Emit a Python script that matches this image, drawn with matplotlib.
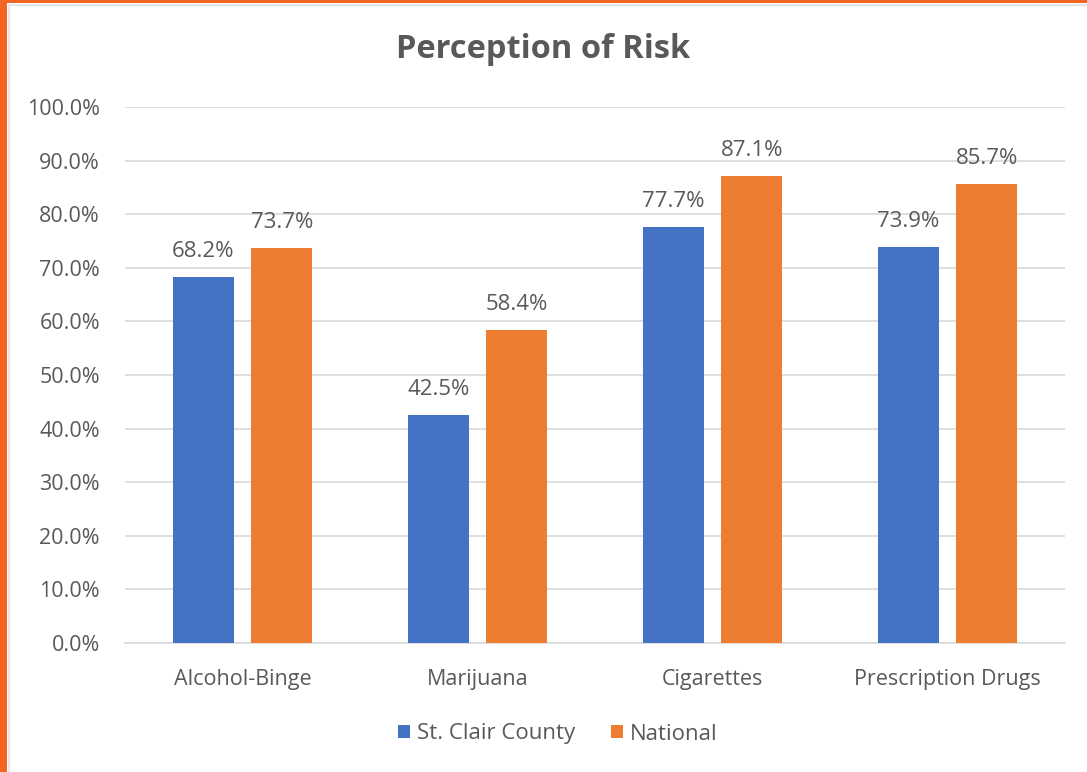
import matplotlib.pyplot as plt
import matplotlib.patches as mpatches
import numpy as np

plt.rcParams["font.family"] = ["Open Sans", "DejaVu Sans"]

categories = ["Alcohol-Binge", "Marijuana", "Cigarettes", "Prescription Drugs"]
st_clair = [68.2, 42.5, 77.7, 73.9]
national = [73.7, 58.4, 87.1, 85.7]
series_names = ["St. Clair County", "National"]

BLUE = "#4472C4"
ORANGE = "#ED7D31"
TEXT = "#595959"

fig = plt.figure(figsize=(10.87, 7.72), dpi=100)

# orange frame on left and top, faint gray inner edge
fig.patches.append(mpatches.Rectangle((0, 0), 7 / 1087, 1, transform=fig.transFigure,
                                      facecolor="#F26522", edgecolor="none", zorder=0))
fig.patches.append(mpatches.Rectangle((0, 1 - 3 / 772), 1, 3 / 772, transform=fig.transFigure,
                                      facecolor="#F26522", edgecolor="none", zorder=0))
fig.patches.append(mpatches.Rectangle((9 / 1087, -0.01), 1, 1 - 5 / 772 + 0.01, transform=fig.transFigure,
                                      facecolor="none", edgecolor="#E6E6E6", linewidth=1.5, zorder=0))

ax = fig.add_axes([125 / 1087, 129 / 772, 940 / 1087, 536 / 772])

x = np.arange(len(categories))
w = 0.26
off = 0.167
b1 = ax.bar(x - off, st_clair, w, color=BLUE, label=series_names[0], zorder=3)
b2 = ax.bar(x + off, national, w, color=ORANGE, label=series_names[1], zorder=3)

for bars, vals in ((b1, st_clair), (b2, national)):
    for rect, v in zip(bars, vals):
        ax.text(rect.get_x() + rect.get_width() / 2, v + 2.8, f"{v:.1f}%",
                ha="center", va="bottom", fontsize=16, color=TEXT)

ax.set_xlim(-0.5, 3.5)
ax.set_ylim(0, 100)
ax.set_yticks(np.arange(0, 101, 10))
ax.set_yticklabels([f"{v:.1f}%" for v in np.arange(0, 101, 10)])
ax.set_xticks(x)
ax.set_xticklabels(categories)
ax.tick_params(axis="both", length=0, labelsize=15.5, labelcolor=TEXT)
ax.tick_params(axis="y", pad=18)
ax.tick_params(axis="x", pad=19)
ax.grid(axis="y", color="#D9D9D9", linewidth=1.2, zorder=0)
for s in ("top", "right", "left"):
    ax.spines[s].set_visible(False)
ax.spines["bottom"].set_color("#D9D9D9")
ax.spines["bottom"].set_linewidth(1.2)

fig.text(0.5, 1 - 50 / 772, "Perception of Risk", ha="center", va="center",
         fontsize=23.5, fontweight="bold", color=TEXT)

fig.legend(handles=[b1, b2], labels=series_names, loc="center", bbox_to_anchor=(0.513, 1 - 734 / 772),
           ncol=2, frameon=False, fontsize=16, labelcolor=TEXT, handlelength=0.55, handleheight=0.55,
           handletextpad=0.3, columnspacing=1.6)

fig.savefig("out.png", dpi=100, facecolor="white")
